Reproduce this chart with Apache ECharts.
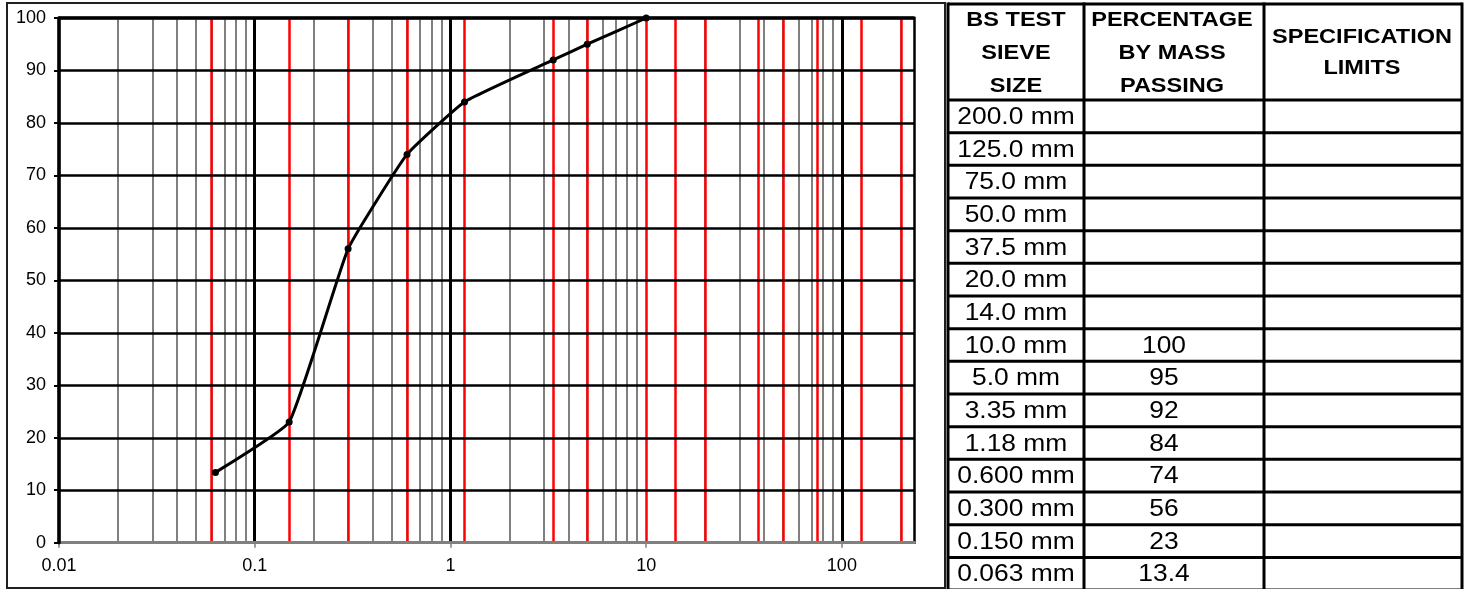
<!DOCTYPE html>
<html><head><meta charset="utf-8">
<script src="https://cdn.jsdelivr.net/npm/echarts@6/dist/echarts.min.js"></script>
<style>html,body{margin:0;padding:0;background:#fff}#main{width:1473px;height:589px}</style>
</head><body><div id="main"></div>
<script>
// ---- data ----
const sieveSizes = [0.063, 0.15, 0.3, 0.6, 1.18, 3.35, 5, 10];
const percentPassing = [13.4, 23, 56, 74, 84, 92, 95, 100];
const standardSieves = [0.063, 0.15, 0.3, 0.6, 1.18, 3.35, 5, 10, 14, 20, 37.5, 50, 75, 125, 200];
const minorGrid = [0.02, 0.03, 0.04, 0.05, 0.06, 0.07, 0.08, 0.09,
                   0.2, 0.3, 0.4, 0.5, 0.6, 0.7, 0.8, 0.9,
                   2, 3, 4, 5, 6, 7, 8, 9,
                   20, 30, 40, 50, 60, 70, 80, 90, 200];
const decadeGrid = [0.1, 1, 100];
const yGrid = [10, 20, 30, 40, 50, 60, 70, 80, 90, 100];
const xMin = 0.01, xMax = 235;
const tableHeaders = [['BS TEST', 'SIEVE', 'SIZE'], ['PERCENTAGE', 'BY MASS', 'PASSING'], ['SPECIFICATION', 'LIMITS']];
const tableSizes = ['200.0 mm', '125.0 mm', '75.0 mm', '50.0 mm', '37.5 mm', '20.0 mm', '14.0 mm', '10.0 mm',
                    '5.0 mm', '3.35 mm', '1.18 mm', '0.600 mm', '0.300 mm', '0.150 mm', '0.063 mm'];
const tablePassing = ['', '', '', '', '', '', '', '100', '95', '92', '84', '74', '56', '23', '13.4'];

// ---- layout ----
const FONT = '"Liberation Sans", Arial, sans-serif';
const colX = [948, 1084, 1264, 1462];
const tableTop = 4, headerBottom = 100, rowH = 32.67;
const headerLineY = [[20.5, 53.5, 86], [20.5, 53.5, 86], [37, 68.5]];
const headerCX = [1016, 1172, 1362];
const dataCX = [1016, 1164];

const graphics = [];
graphics.push({type: 'rect', z: 0, shape: {x: 7, y: 3, width: 938, height: 585},
  style: {fill: 'none', stroke: '#202020', lineWidth: 2}});
// table grid
const rowLines = [tableTop, headerBottom];
for (let k = 1; k <= tableSizes.length; k++) rowLines.push(headerBottom + k * rowH);
rowLines.forEach(y => graphics.push({type: 'line', shape: {x1: colX[0], y1: y, x2: colX[3], y2: y},
  style: {stroke: '#000', lineWidth: 3}}));
colX.forEach(x => graphics.push({type: 'line', shape: {x1: x, y1: tableTop - 1.5, x2: x, y2: 600},
  style: {stroke: '#000', lineWidth: 3}}));
// header text
tableHeaders.forEach((lines, c) => lines.forEach((t, i) => graphics.push({
  type: 'text', x: headerCX[c], y: headerLineY[c][i], scaleX: 1.12,
  style: {text: t, font: 'bold 21px ' + FONT, align: 'center', verticalAlign: 'middle', fill: '#000'}
})));
// data text
tableSizes.forEach((t, r) => {
  const cy = headerBottom + (r + 0.5) * rowH + 1;
  graphics.push({type: 'text', x: dataCX[0], y: cy, scaleX: 1.1,
    style: {text: t, font: '24px ' + FONT, align: 'center', verticalAlign: 'middle', fill: '#000'}});
  if (tablePassing[r]) graphics.push({type: 'text', x: dataCX[1], y: cy, scaleX: 1.1,
    style: {text: tablePassing[r], font: '24px ' + FONT, align: 'center', verticalAlign: 'middle', fill: '#000'}});
});

function vLines(vals, color, width) {
  return vals.map(v => ({xAxis: v, lineStyle: {color: color, width: width, type: 'solid'}}));
}
function markSeries(data, z) {
  return {type: 'line', data: [], z: z, silent: true,
    markLine: {silent: true, symbol: ['none', 'none'], label: {show: false}, animation: false,
      lineStyle: {type: 'solid'}, emphasis: {disabled: true}, data: data}};
}

const chart = echarts.init(document.getElementById('main'));
chart.setOption({
  animation: false,
  grid: {left: 59, top: 18, width: 855.5, height: 524.7, show: true, borderColor: '#000', borderWidth: 2.5, backgroundColor: '#fff'},
  xAxis: {
    type: 'log', logBase: 10, min: xMin, max: xMax, z: 5,
    axisLine: {show: true, onZero: false, lineStyle: {color: '#808080', width: 3}},
    axisTick: {show: true, length: 5, lineStyle: {color: '#808080', width: 1.5}},
    axisLabel: {fontSize: 18, fontFamily: FONT, color: '#000', margin: 14, showMaxLabel: false,
      formatter: v => {
        const e = Math.log10(v);
        if (Math.abs(e - Math.round(e)) > 1e-6) return '';
        return String(Math.pow(10, Math.round(e)));
      }},
    splitLine: {show: false}, minorTick: {show: false}
  },
  yAxis: {
    type: 'value', min: 0, max: 100, interval: 10, z: 6,
    axisLine: {show: true, lineStyle: {color: '#000', width: 3.5}},
    axisTick: {show: true, length: 5, lineStyle: {color: '#000', width: 2}},
    axisLabel: {fontSize: 18, fontFamily: FONT, color: '#000', margin: 13},
    splitLine: {show: false}
  },
  series: [
    markSeries(vLines(minorGrid, '#808080', 2), 1),
    markSeries(vLines(decadeGrid, '#000', 3), 2),
    markSeries(vLines(standardSieves, '#ff0000', 2.5), 3),
    markSeries(yGrid.map(v => ({yAxis: v, lineStyle: {color: '#000', width: v === 100 ? 3.5 : 2.5, type: 'solid'}})), 4),
    {
      type: 'line', z: 10, smooth: 0.12,
      data: sieveSizes.map((s, i) => [s, percentPassing[i]]),
      symbol: 'circle', symbolSize: 7, showSymbol: true,
      lineStyle: {color: '#000', width: 3}, itemStyle: {color: '#000'}
    }
  ],
  graphic: graphics
});
</script></body></html>
